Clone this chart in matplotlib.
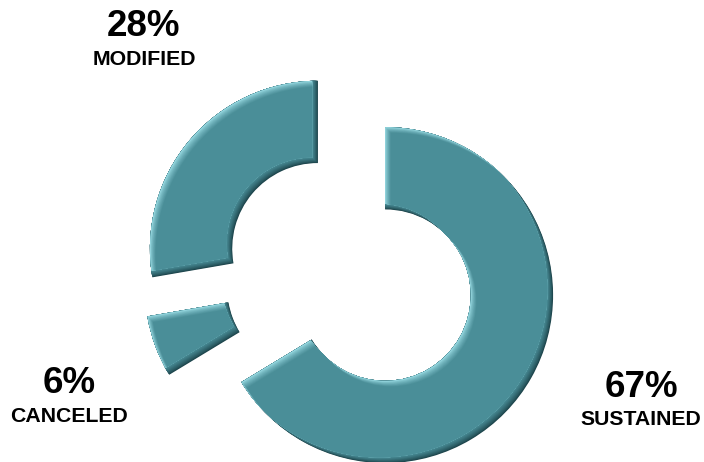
import matplotlib
matplotlib.use('Agg')
import numpy as np
import matplotlib.pyplot as plt
from matplotlib.patches import PathPatch
from matplotlib.transforms import Affine2D
from matplotlib.colors import to_rgb

labels = ['SUSTAINED', 'CANCELED', 'MODIFIED']
values = [67, 6, 28]
pct_labels = ['67%', '6%', '28%']

explode = [0.25, 0.226, 0.238]
base = np.array(to_rgb('#4A8E98'))
light = np.array(to_rgb('#9ADCE4'))
dark = np.array(to_rgb('#1C434A'))

plt.rcParams['font.family'] = ['Liberation Sans', 'DejaVu Sans']

fig = plt.figure(figsize=(7.04, 4.62), dpi=100)
ax = fig.add_axes([0, 0, 1, 1])
wedges, _ = ax.pie(values, explode=explode, startangle=90, counterclock=False,
                   radius=1.0,
                   wedgeprops=dict(width=0.49, facecolor=dark, edgecolor='none'))
ax.set_xlim(-2.0744, 2.1161)
ax.set_ylim(-1.1161, 1.6339)
ax.set_aspect('equal')
ax.axis('off')

d = 8.0
N = 10
ux, uy = 1 / np.sqrt(2), -1 / np.sqrt(2)  # down-right in display coords


def shifted(path, T, s, **kw):
    return PathPatch(path, transform=T + Affine2D().translate(s * ux, s * uy), **kw)


for w in wedges:
    path = w.get_path()
    T = w.get_transform()
    z = 2
    # dark gradient on bottom-right facing edges
    for j in range(1, N + 1):
        s = d * j / N
        f = (j / N) ** 0.8
        col = dark * (1 - f) + base * f
        p = shifted(path, T, -s, fc=col, ec='none', zorder=z)
        p.set_clip_path(w)
        ax.add_patch(p)
        z += 0.01
    clip = shifted(path, T, -d, fc='none', ec='none')
    # light gradient on top-left facing edges
    for j in range(0, N + 1):
        s = d * j / N
        f = (j / N) ** 0.7
        col = light * (1 - f) + base * f
        p = shifted(path, T, s, fc=col, ec='none', zorder=z)
        p.set_clip_path(clip)
        ax.add_patch(p)
        z += 0.01

# label positions in pixels (x center, baseline from top)
pos = {
    'SUSTAINED': (641, 397, 425),
    'CANCELED': (69, 393, 422),
    'MODIFIED': (144, 36.5, 65),
}
W, H = 704, 462
for lab, pct in zip(labels, pct_labels):
    x, yb1, yb2 = pos[lab]
    fig.text(x / W, 1 - yb1 / H, pct, ha='center', va='baseline',
             fontsize=26.5, fontweight='bold', color='black')
    fig.text(x / W, 1 - yb2 / H, lab, ha='center', va='baseline',
             fontsize=15.3, fontweight='bold', color='black')

fig.savefig('out.png', dpi=100)
